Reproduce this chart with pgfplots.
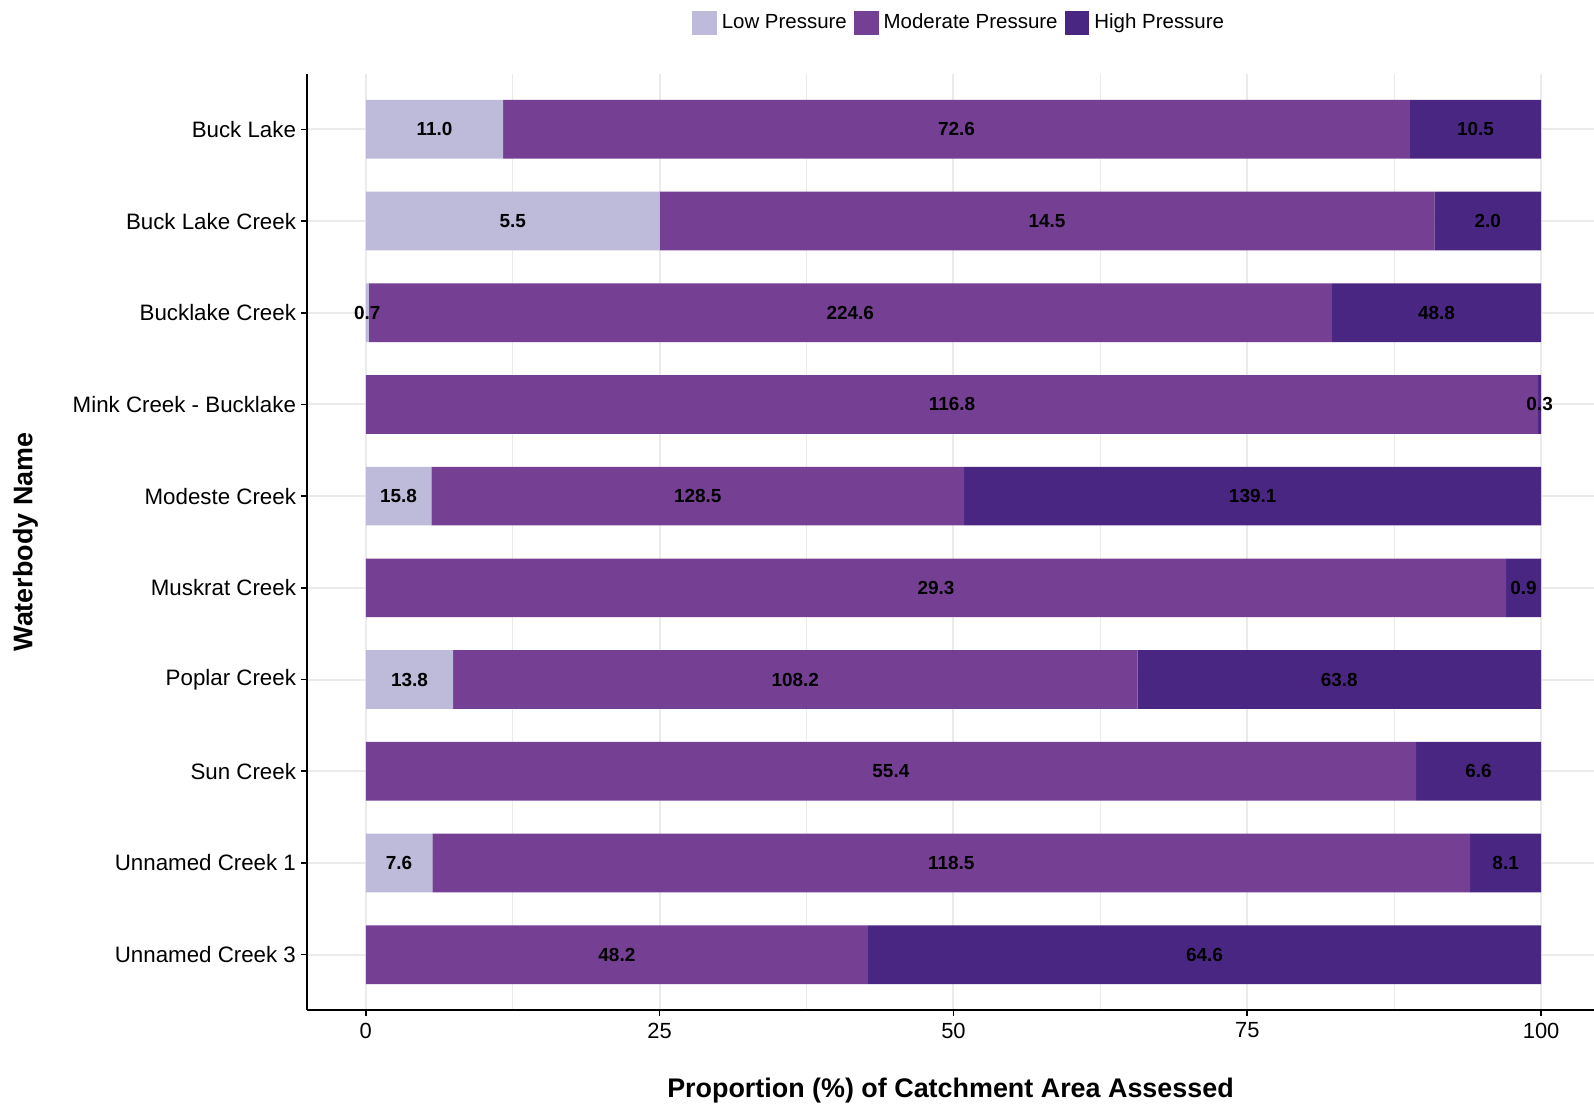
\documentclass[border=0pt]{standalone}
\usepackage{fontspec}
\setmainfont{Liberation Sans}
\usepackage{pgfplots}
\pgfplotsset{compat=1.18}
\usepackage{pgfplotstable}
\definecolor{lowc}{RGB}{189,186,218}
\definecolor{modc}{RGB}{117,63,148}
\definecolor{highc}{RGB}{74,38,131}
\definecolor{gridc}{RGB}{235,235,235}

% proportions (%) of catchment area
\pgfplotstableread{
y low mod high
1 11.690 77.152 11.158
2 25.000 65.909 9.091
3 0.255 81.941 17.804
4 0 99.744 0.256
5 5.575 45.343 49.083
6 0 97.020 2.980
7 7.427 58.235 34.338
8 0 89.355 10.645
9 5.663 88.301 6.036
10 0 42.730 57.270
}\shares

% label positions (segment centres) and area labels
\pgfplotstableread{
x y lab
5.845 1 11.0
50.266 1 72.6
94.421 1 10.5
12.5 2 5.5
57.955 2 14.5
95.455 2 2.0
0.128 3 0.7
41.226 3 224.6
91.098 3 48.8
49.872 4 116.8
99.872 4 0.3
2.788 5 15.8
28.246 5 128.5
75.459 5 139.1
48.510 6 29.3
98.510 6 0.9
3.714 7 13.8
36.544 7 108.2
82.831 7 63.8
44.677 8 55.4
94.677 8 6.6
2.832 9 7.6
49.814 9 118.5
96.982 9 8.1
21.365 10 48.2
71.365 10 64.6
}\labels

\pgfplotsset{
  base/.style={
    width=643.5bp, height=467.7bp, scale only axis,
    at={(0,0)}, anchor=south west,
    xmin=-5, xmax=104.5, ymin=0.4, ymax=10.6, y dir=reverse,
    clip=false,
  },
  sqlegend/.style={legend image code/.code={\fill[##1,draw=none] (0bp,-6.2bp) rectangle (12.4bp,6.2bp);}},
}

\begin{document}
\begin{tikzpicture}
\path[use as bounding box] (-153.5bp,-48.25bp) rectangle (643.5bp,504.85bp);
\begin{axis}[base,
  xbar stacked, bar width=0.64,
  axis x line*=bottom, axis y line*=left,
  axis line style={black, line width=1bp},
  xtick={0,25,50,75,100},
  minor xtick={12.5,37.5,62.5,87.5},
  ytick={1,2,3,4,5,6,7,8,9,10},
  yticklabels={Buck Lake, Buck Lake Creek, Bucklake Creek, Mink Creek - Bucklake, Modeste Creek, Muskrat Creek, Poplar Creek, Sun Creek, Unnamed Creek 1, Unnamed Creek 3},
  grid=both,
  major grid style={gridc, line width=1bp},
  minor grid style={gridc, line width=0.7bp},
  tick align=outside,
  major tick length=3bp, minor tick length=0pt,
  tick style={black, line width=0.8bp},
  /pgf/number format/assume math mode=true,
  xticklabel style={font=\fontsize{11}{13}\selectfont, text=black},
  yticklabel style={font=\fontsize{11.2}{13}\selectfont, text=black, xshift=1bp},
  xlabel={Proportion (\%) of Catchment Area Assessed},
  ylabel={Waterbody Name},
  xlabel style={font=\bfseries\fontsize{13.5}{16}\selectfont, at={(axis description cs:0.5,-0.0866)}, anchor=center},
  ylabel style={font=\bfseries\fontsize{13.5}{16}\selectfont, at={(axis description cs:-0.2188,0.5)}, anchor=center},
  legend style={draw=none, fill=none, at={(0.5074,1.0549)}, anchor=center,
    legend columns=3, font=\fontsize{10.27}{12}\selectfont,
    /tikz/every even column/.append style={column sep=1.5bp},
    /tikz/every odd column/.append style={column sep=0.5bp},
    cells={anchor=west}},
]
\addplot[fill=lowc, draw=none, sqlegend] table[x=low, y=y] {\shares};
\addlegendentry{Low Pressure}
\addplot[fill=modc, draw=none, sqlegend] table[x=mod, y=y] {\shares};
\addlegendentry{Moderate Pressure}
\addplot[fill=highc, draw=none, sqlegend] table[x=high, y=y] {\shares};
\addlegendentry{High Pressure}
\end{axis}
\begin{axis}[base, hide axis]
\addplot[draw=none, mark=none, nodes near coords, point meta=explicit symbolic,
  nodes near coords align=center,
  every node near coord/.append style={font=\bfseries\fontsize{9.5}{11}\selectfont, text=black, inner sep=0pt}]
  table[x=x, y=y, meta=lab] {\labels};
\end{axis}
\end{tikzpicture}
\end{document}
